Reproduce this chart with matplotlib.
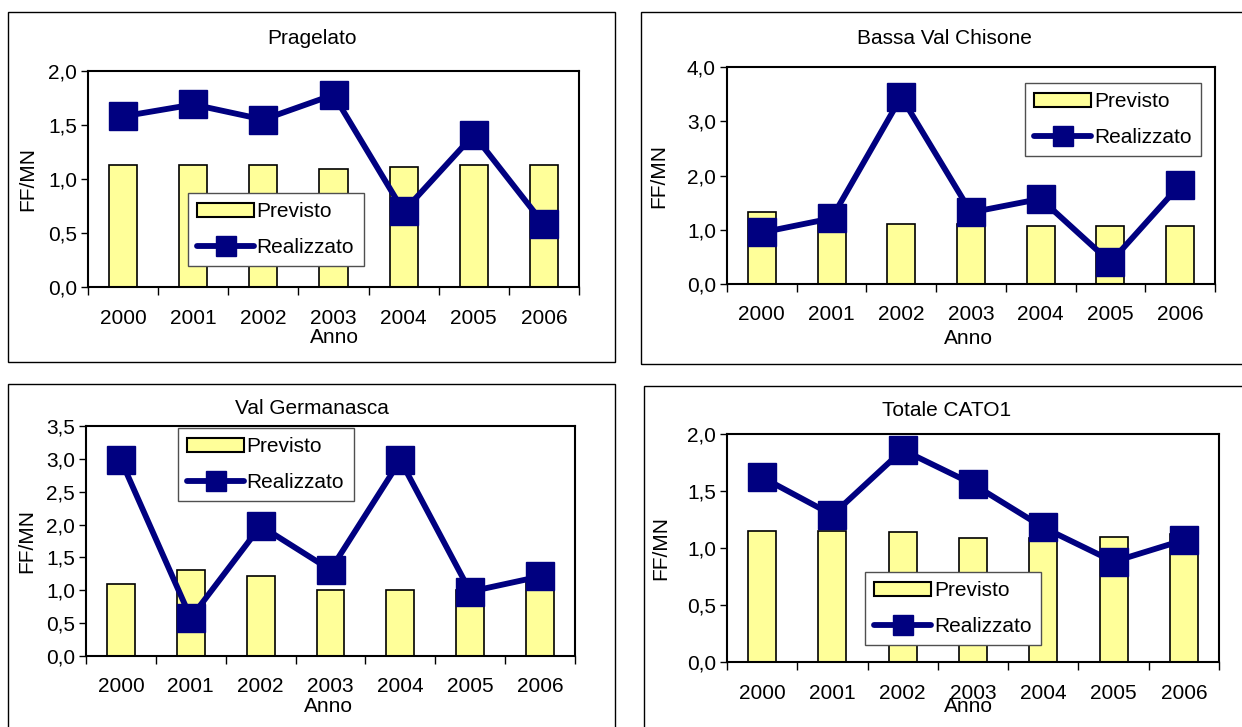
import matplotlib
matplotlib.use("Agg")
import matplotlib.pyplot as plt
from matplotlib.lines import Line2D
from matplotlib.patches import Patch, Rectangle
import numpy as np

plt.rcParams['font.family'] = ['Liberation Sans', 'DejaVu Sans']

# data
anni = ['2000', '2001', '2002', '2003', '2004', '2005', '2006']

titoli = ['Pragelato', 'Bassa Val Chisone', 'Val Germanasca', 'Totale CATO1']

prev_pragelato = [1.13, 1.13, 1.13, 1.09, 1.11, 1.13, 1.13]
real_pragelato = [1.58, 1.69, 1.55, 1.78, 0.70, 1.41, 0.58]

prev_bassa = [1.32, 1.10, 1.10, 1.10, 1.06, 1.06, 1.06]
real_bassa = [0.95, 1.21, 3.45, 1.32, 1.57, 0.40, 1.83]

prev_germanasca = [1.09, 1.31, 1.21, 1.00, 1.00, 1.00, 1.18]
real_germanasca = [2.98, 0.58, 1.98, 1.31, 2.98, 0.98, 1.21]

prev_totale = [1.15, 1.15, 1.14, 1.09, 1.09, 1.10, 1.12]
real_totale = [1.62, 1.29, 1.86, 1.56, 1.18, 0.88, 1.07]

W, H = 1242, 727
fig = plt.figure(figsize=(W / 100, H / 100), dpi=100)

GIALLO = '#FFFF99'
BLU = '#000080'
FS = 15


def fx(x):
    return x / W


def fy(y):
    return 1 - y / H


def pannello(frame, box, titolo, tpos, ylab_x, anno_pos, prev, real, ymax, ystep, leg, xpad):
    # panel border
    fig.patches.append(Rectangle((fx(frame[0]), fy(frame[3])),
                                 fx(frame[2] - frame[0]), (frame[3] - frame[1]) / H,
                                 transform=fig.transFigure, fill=False,
                                 edgecolor='black', linewidth=1.0))
    ax = fig.add_axes([fx(box[0]), fy(box[3]), fx(box[2] - box[0]), (box[3] - box[1]) / H])
    x = np.arange(len(anni))
    ax.bar(x, prev, width=0.4, color=GIALLO, edgecolor='black', linewidth=1.2, zorder=2)
    ax.plot(x, real, color=BLU, linewidth=4.2, marker='s', markersize=19.5,
            solid_capstyle='round', zorder=3, clip_on=False)
    ax.set_xlim(-0.5, len(anni) - 0.5)
    ax.set_ylim(0, ymax)
    yt = np.arange(0, ymax + 1e-9, ystep)
    ax.set_yticks(yt)
    ax.set_yticklabels([f'{v:.1f}'.replace('.', ',') for v in yt], fontsize=FS)
    ax.set_xticks(x)
    ax.set_xticklabels(anni, fontsize=FS)
    ax.set_xticks(np.arange(-0.5, len(anni)), minor=True)
    ax.tick_params(axis='x', which='major', length=0, pad=xpad)
    ax.tick_params(axis='x', which='minor', length=6, width=1, direction='out')
    ax.tick_params(axis='y', length=5, width=1, direction='out', pad=3)
    for s in ax.spines.values():
        s.set_linewidth(1.5)
    fig.text(fx(tpos[0]), fy(tpos[1]), titolo, ha='center', va='center', fontsize=FS)
    fig.text(fx(ylab_x), fy((box[1] + box[3]) / 2), 'FF/MN', rotation=90,
             ha='center', va='center', fontsize=FS)
    fig.text(fx(anno_pos[0]), fy(anno_pos[1]), 'Anno', ha='center', va='center', fontsize=FS)

    handles = [Patch(facecolor=GIALLO, edgecolor='black', linewidth=1.5),
               Line2D([], [], color=BLU, linewidth=4.2, marker='s', markersize=14.5,
                      solid_capstyle='round')]
    lg = fig.legend(handles, ['Previsto', 'Realizzato'], loc='upper left',
                    bbox_to_anchor=(fx(leg[0]), fy(leg[1])), fontsize=FS,
                    frameon=True, fancybox=False, edgecolor='#505050',
                    framealpha=1, borderpad=0.45, labelspacing=0.8,
                    handlelength=2.7, handleheight=0.7, handletextpad=0.15,
                    borderaxespad=0)
    lg.get_frame().set_linewidth(1.0)
    lg.set_zorder(10)
    return ax


pannello((8, 12, 615, 362), (88, 71, 579, 287), titoli[0], (312, 39), 28, (334, 338),
         prev_pragelato, real_pragelato, 2.0, 0.5, (188, 193), 16)
pannello((641, 12, 1250, 364), (727, 67, 1215, 284), titoli[1], (944, 38), 659, (968, 339),
         prev_bassa, real_bassa, 4.0, 1.0, (1025, 83), 15)
pannello((8, 384, 615, 740), (86, 426, 575, 656), titoli[2], (312, 408), 27, (328, 707),
         prev_germanasca, real_germanasca, 3.5, 0.5, (178, 428), 15)
pannello((644, 386, 1250, 740), (727, 434, 1219, 662), titoli[3], (947, 411), 661, (968, 707),
         prev_totale, real_totale, 2.0, 0.5, (865, 572), 16)

fig.savefig('out.png', dpi=100)
